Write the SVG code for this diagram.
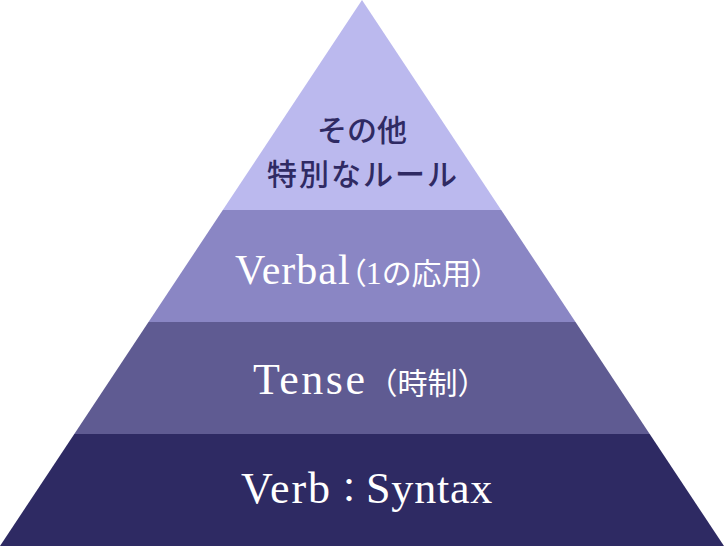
<svg xmlns="http://www.w3.org/2000/svg" width="724" height="546" viewBox="0 0 724 546">
  <style>
    .lbl { font-family: "Liberation Serif", "Noto Sans CJK JP", serif; }
    .jp { font-family: "Noto Sans CJK JP", sans-serif; font-size: 30px; }
    .palt { font-feature-settings: "palt"; }
    .lat { font-family: "Liberation Serif", serif; font-size: 44px; }
    .light { fill: #ffffff; }
    .dark { fill: #2f2a63; font-weight: 500; text-anchor: middle; }
  </style>
  <rect width="724" height="546" fill="#ffffff"/>
  <g id="layer-other">
    <polygon points="362,0 501.2,210 222.8,210" fill="#bbb9ee"/>
    <text class="lbl dark jp" x="362" y="141">その他</text>
    <text class="lbl dark jp" x="363" y="185" letter-spacing="2">特別なルール</text>
  </g>
  <g id="layer-verbal">
    <polygon points="222.8,210 501.2,210 575.5,322 148.5,322" fill="#8a86c4"/>
    <text class="lbl light" x="235" y="284"><tspan font-family="Liberation Serif" font-size="42" letter-spacing="1">Verbal</tspan><tspan class="jp palt">（</tspan><tspan font-family="Liberation Serif" font-size="32">1</tspan><tspan class="jp">の応用</tspan><tspan class="jp palt">）</tspan></text>
  </g>
  <g id="layer-tense">
    <polygon points="148.5,322 575.5,322 649.7,434 74.3,434" fill="#5f5b92"/>
    <text class="lbl light" x="253" y="394"><tspan class="lat" letter-spacing="2.5">Tense</tspan><tspan class="jp">（時制）</tspan></text>
  </g>
  <g id="layer-verb">
    <polygon points="74.3,434 649.7,434 724,546 0,546" fill="#2e2a63"/>
    <text class="lbl light" x="241" y="503"><tspan class="lat" letter-spacing="2">Verb</tspan><tspan font-family="Noto Sans CJK JP" font-size="34">：</tspan><tspan class="lat" letter-spacing="0.8">Syntax</tspan></text>
  </g>
</svg>
